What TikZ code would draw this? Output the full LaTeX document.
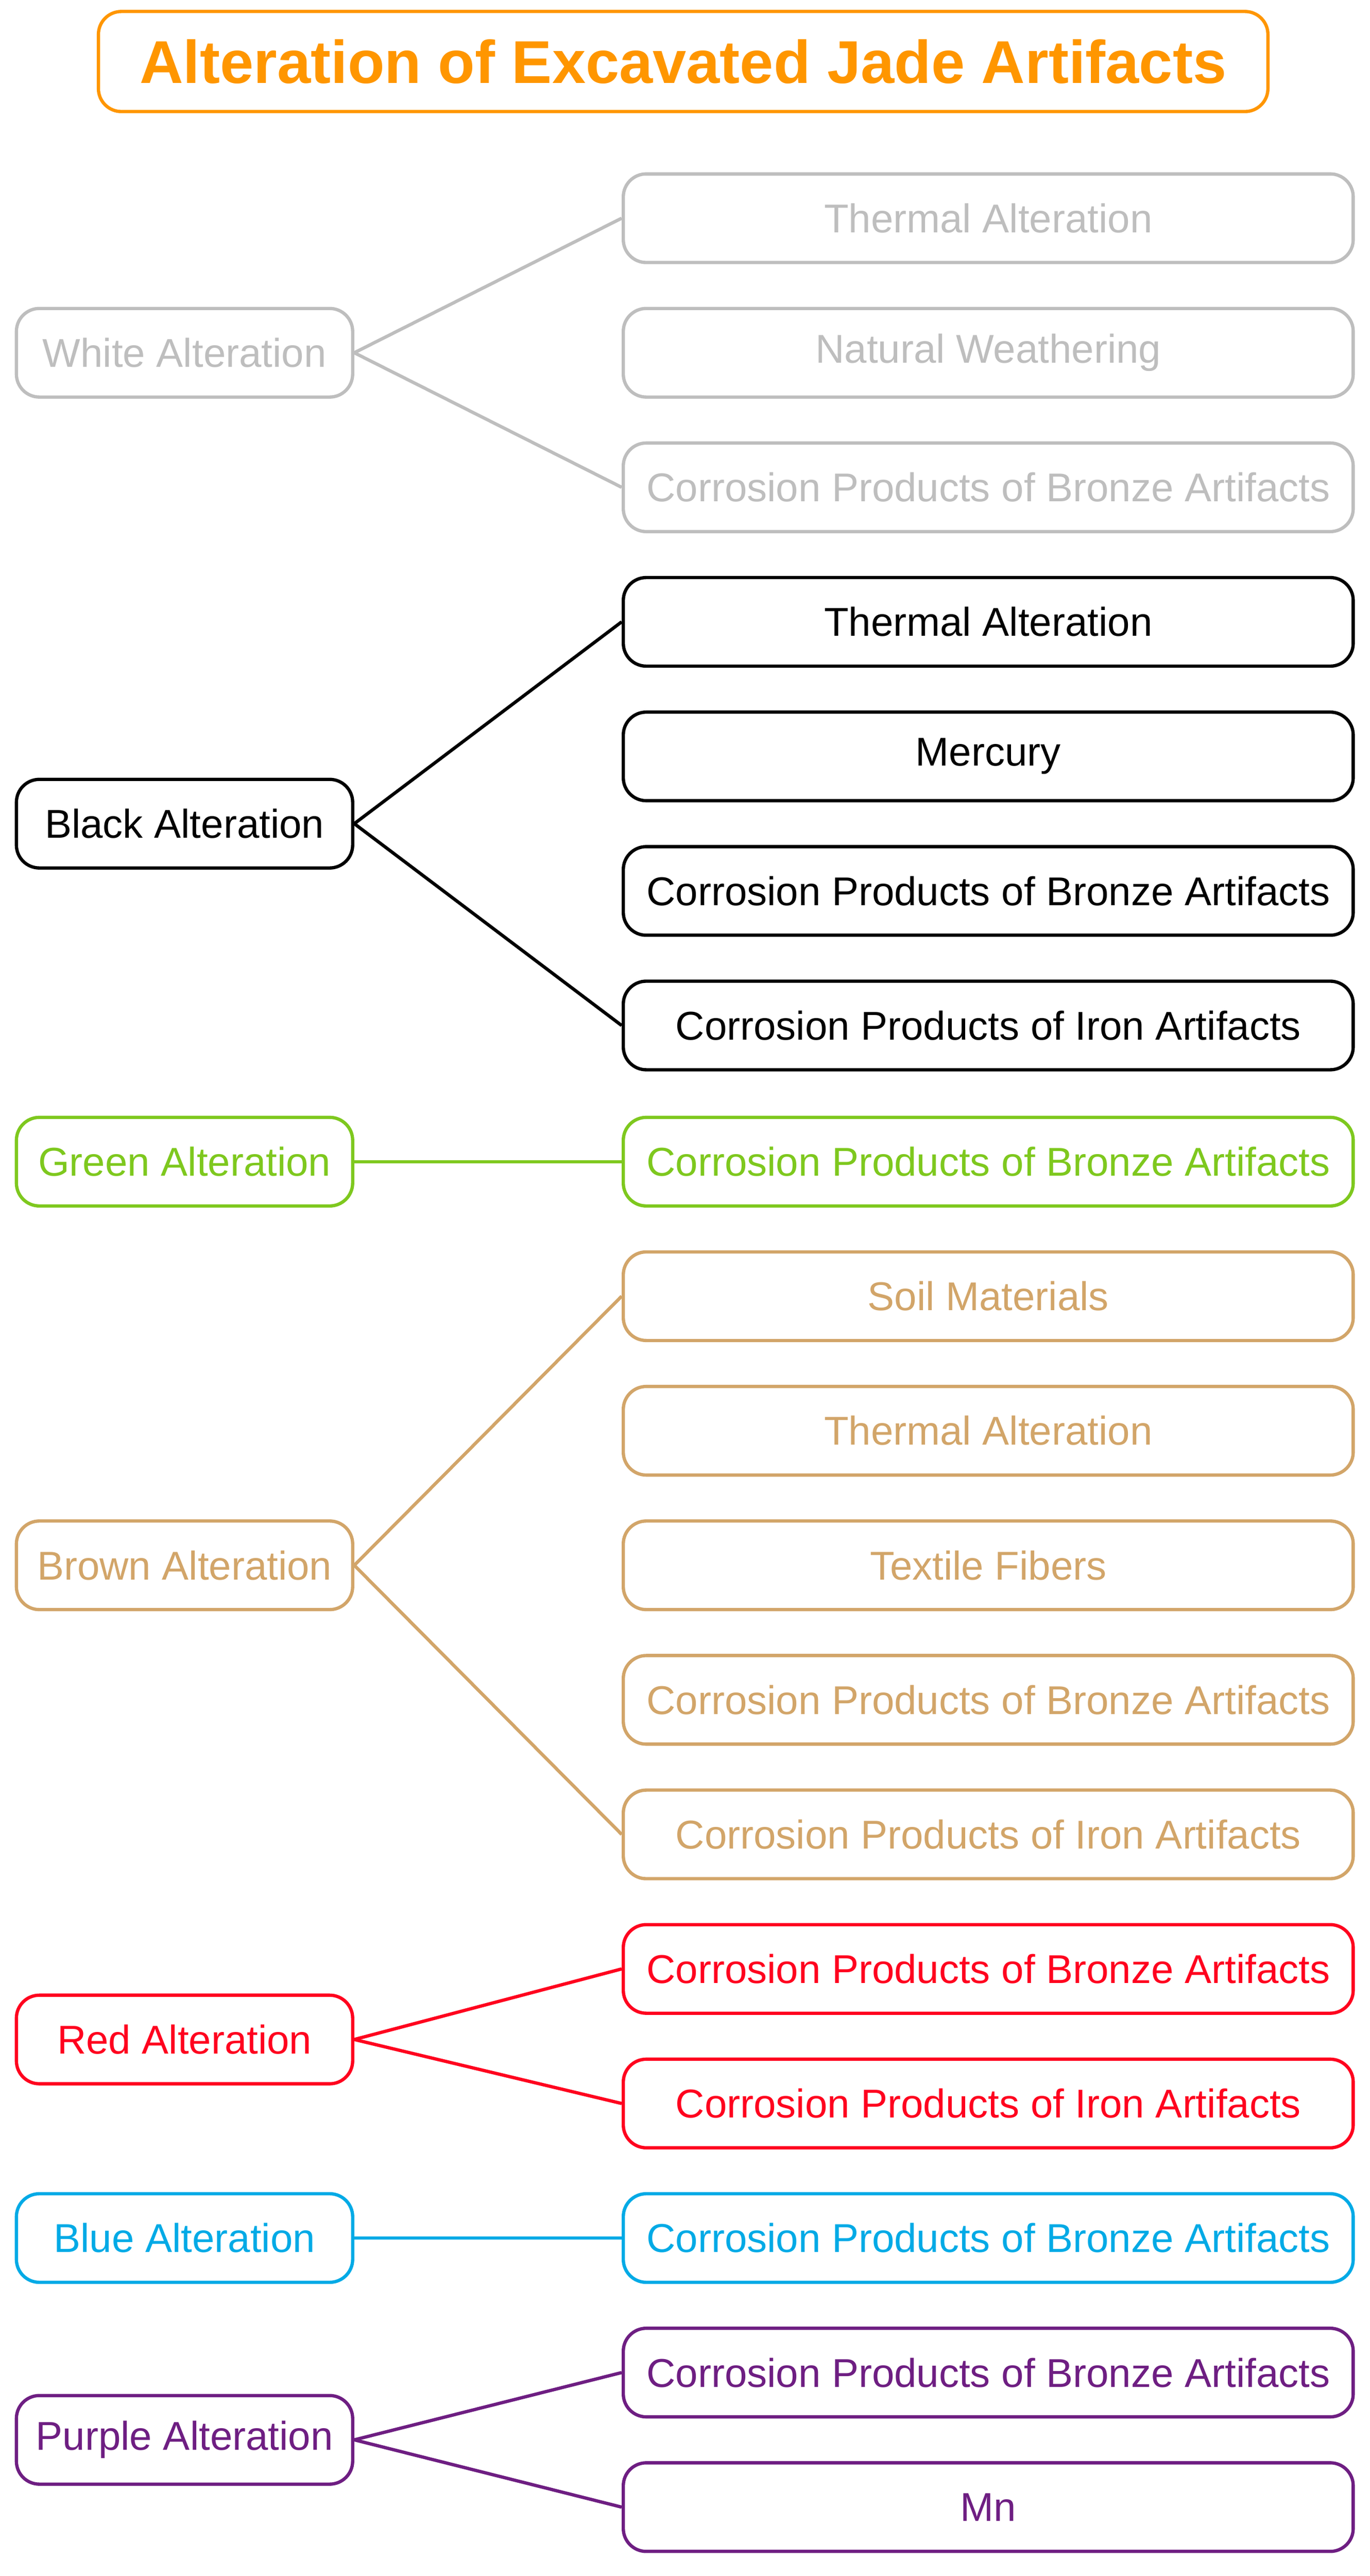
\documentclass[tikz,border=0pt]{standalone}
\usepackage{fontspec}
\setmainfont{Liberation Sans}
\begin{document}
\begin{tikzpicture}[x=1pt,y=-1pt,
  box/.style={draw=#1,text=#1,line width=2pt,rounded corners=14pt,minimum height=54pt,font=\fontsize{24.5}{29}\selectfont,inner sep=0pt},
  lb/.style={box=#1,minimum width=205pt},
  rb/.style={box=#1,minimum width=445pt},
  ln/.style={draw=#1,line width=2pt}]
\definecolor{cw}{RGB}{190,190,190}
\definecolor{ck}{RGB}{0,0,0}
\definecolor{cg}{RGB}{126,200,30}
\definecolor{cb}{RGB}{210,165,105}
\definecolor{cr}{RGB}{255,0,30}
\definecolor{cu}{RGB}{0,170,230}
\definecolor{cp}{RGB}{110,30,130}
\definecolor{co}{RGB}{255,150,0}
\useasboundingbox (0,0) rectangle (835,1570);
\node[draw=co,text=co,line width=2pt,rounded corners=14pt,minimum width=713pt,minimum height=61pt,font=\fontsize{36.8}{42}\selectfont\bfseries] (t) at (416.5,37.5) {Alteration of Excavated Jade Artifacts};
% white
\node[lb=cw] (w) at (112.5,215) {White Alteration};
\node[rb=cw] (w1) at (602.5,133) {Thermal Alteration};
\node[rb=cw] (w2) at (602.5,215) {Natural Weathering};
\node[rb=cw] (w3) at (602.5,297) {Corrosion Products of Bronze Artifacts};
\draw[ln=cw] (w.east) -- (w1.west); \draw[ln=cw] (w.east) -- (w3.west);
% black
\node[lb=ck] (k) at (112.5,502) {Black Alteration};
\node[rb=ck] (k1) at (602.5,379) {Thermal Alteration};
\node[rb=ck] (k2) at (602.5,461) {Mercury};
\node[rb=ck] (k3) at (602.5,543) {Corrosion Products of Bronze Artifacts};
\node[rb=ck] (k4) at (602.5,625) {Corrosion Products of Iron Artifacts};
\draw[ln=ck] (k.east) -- (k1.west); \draw[ln=ck] (k.east) -- (k4.west);
% green
\node[lb=cg] (g) at (112.5,708) {Green Alteration};
\node[rb=cg] (g1) at (602.5,708) {Corrosion Products of Bronze Artifacts};
\draw[ln=cg] (g.east) -- (g1.west);
% brown
\node[lb=cb] (b) at (112.5,954) {Brown Alteration};
\node[rb=cb] (b1) at (602.5,790) {Soil Materials};
\node[rb=cb] (b2) at (602.5,872) {Thermal Alteration};
\node[rb=cb] (b3) at (602.5,954) {Textile Fibers};
\node[rb=cb] (b4) at (602.5,1036) {Corrosion Products of Bronze Artifacts};
\node[rb=cb] (b5) at (602.5,1118) {Corrosion Products of Iron Artifacts};
\draw[ln=cb] (b.east) -- (b1.west); \draw[ln=cb] (b.east) -- (b5.west);
% red
\node[lb=cr] (r) at (112.5,1243) {Red Alteration};
\node[rb=cr] (r1) at (602.5,1200) {Corrosion Products of Bronze Artifacts};
\node[rb=cr] (r2) at (602.5,1282) {Corrosion Products of Iron Artifacts};
\draw[ln=cr] (r.east) -- (r1.west); \draw[ln=cr] (r.east) -- (r2.west);
% blue
\node[lb=cu] (u) at (112.5,1364) {Blue Alteration};
\node[rb=cu] (u1) at (602.5,1364) {Corrosion Products of Bronze Artifacts};
\draw[ln=cu] (u.east) -- (u1.west);
% purple
\node[lb=cp] (p) at (112.5,1487) {Purple Alteration};
\node[rb=cp] (p1) at (602.5,1446) {Corrosion Products of Bronze Artifacts};
\node[rb=cp] (p2) at (602.5,1528) {Mn};
\draw[ln=cp] (p.east) -- (p1.west); \draw[ln=cp] (p.east) -- (p2.west);
\end{tikzpicture}
\end{document}
